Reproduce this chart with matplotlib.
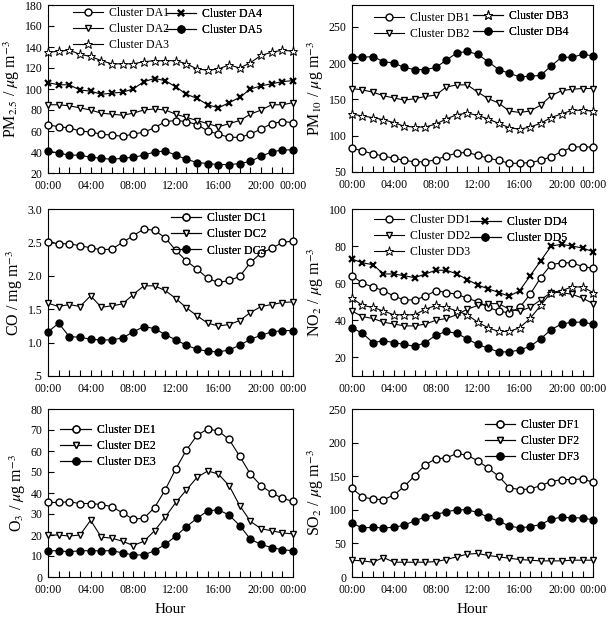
import numpy as np
import matplotlib
matplotlib.use('Agg')
import matplotlib.pyplot as plt
from matplotlib.ticker import MultipleLocator, FixedLocator

plt.rcParams['font.family'] = ['Liberation Serif', 'DejaVu Serif']
plt.rcParams['mathtext.fontset'] = 'stix'

hours = np.arange(24)
xticks = [0, 4, 8, 12, 16, 20, 23]
xlabels = ['00:00', '04:00', '08:00', '12:00', '16:00', '20:00', '00:00']

# PM2.5
da1 = [66, 64, 63, 60, 59, 57, 56, 55, 57, 59, 63, 69, 70, 69, 66, 60, 57, 54, 54, 57, 62, 67, 69, 68]
da2 = [85, 85, 84, 82, 80, 77, 76, 75, 77, 80, 81, 80, 76, 73, 70, 67, 64, 67, 70, 76, 80, 85, 85, 87]
da3 = [135, 136, 137, 133, 131, 127, 124, 124, 124, 126, 127, 127, 127, 124, 119, 118, 119, 123, 120, 125, 132, 135, 137, 136]
da4 = [106, 104, 104, 99, 98, 95, 96, 97, 100, 107, 110, 108, 102, 95, 91, 85, 82, 87, 92, 100, 103, 105, 107, 108]
da5 = [41, 39, 37, 37, 35, 34, 33, 34, 35, 37, 40, 41, 37, 33, 30, 29, 28, 28, 29, 31, 36, 40, 42, 42]

# PM10
db1 = [83, 79, 75, 72, 69, 66, 64, 64, 67, 72, 76, 77, 73, 69, 66, 62, 62, 63, 66, 71, 78, 84, 85, 84]
db2 = [165, 163, 160, 155, 152, 149, 151, 154, 156, 167, 170, 170, 160, 151, 145, 134, 132, 134, 142, 155, 162, 164, 165, 165]
db3 = [130, 127, 125, 122, 118, 113, 112, 112, 116, 123, 129, 131, 128, 123, 117, 111, 109, 112, 117, 125, 130, 135, 135, 134]
db4 = [209, 208, 209, 202, 200, 194, 191, 191, 194, 204, 214, 216, 212, 202, 191, 186, 181, 182, 183, 196, 208, 208, 212, 210]

# CO
dc1 = [2.50, 2.48, 2.48, 2.45, 2.42, 2.39, 2.40, 2.50, 2.60, 2.70, 2.68, 2.57, 2.38, 2.22, 2.10, 1.96, 1.90, 1.93, 1.99, 2.20, 2.34, 2.41, 2.50, 2.52]
dc2 = [1.59, 1.54, 1.57, 1.54, 1.70, 1.53, 1.55, 1.58, 1.72, 1.85, 1.85, 1.78, 1.66, 1.52, 1.40, 1.29, 1.25, 1.27, 1.33, 1.45, 1.54, 1.57, 1.60, 1.61]
dc3 = [1.16, 1.29, 1.09, 1.08, 1.05, 1.04, 1.04, 1.07, 1.16, 1.24, 1.21, 1.12, 1.04, 0.96, 0.90, 0.87, 0.86, 0.89, 0.96, 1.05, 1.11, 1.16, 1.18, 1.18]

# NO2
dd1 = [64, 60, 58, 56, 53, 51, 51, 53, 56, 55, 54, 52, 50, 47, 45, 44, 47, 54, 63, 70, 71, 71, 69, 68]
dd2 = [45, 42, 41, 39, 38, 37, 37, 38, 40, 41, 43, 46, 48, 49, 49, 46, 45, 47, 51, 55, 55, 54, 52, 49]
dd3 = [52, 48, 47, 45, 43, 43, 43, 46, 48, 47, 45, 43, 39, 36, 34, 34, 36, 41, 48, 55, 56, 58, 58, 55]
dd4 = [73, 71, 70, 65, 65, 64, 63, 65, 67, 67, 65, 62, 59, 57, 55, 53, 56, 64, 72, 80, 81, 80, 79, 77]
dd5 = [36, 33, 28, 29, 28, 27, 26, 28, 32, 34, 33, 30, 27, 25, 23, 23, 24, 26, 30, 35, 38, 39, 39, 38]

# O3
de1 = [35.5, 35.5, 35.8, 35, 35, 34.5, 33.5, 30.5, 27.5, 28, 33, 41.5, 51.5, 60.5, 67.5, 70.5, 69.5, 65.5, 57.5, 49, 43.5, 40, 37.5, 36]
de2 = [20, 20, 19.5, 20, 27, 19, 18.5, 17, 15, 17, 22, 28.5, 35.5, 41.5, 47.5, 50.5, 49, 43.5, 34, 26.5, 23, 22, 21, 20.5]
de3 = [12.5, 12.5, 12, 12.5, 12.5, 12.5, 12.5, 11.5, 10.5, 10.5, 12.5, 15.5, 19.5, 24, 28, 31.5, 32, 29.5, 24.5, 18, 15.5, 14, 13, 12.5]

# SO2
df1 = [132, 119, 116, 115, 122, 135, 151, 167, 176, 177, 184, 181, 173, 162, 150, 133, 130, 131, 136, 142, 145, 145, 146, 141]
df2 = [25, 24, 22, 29, 22, 22, 22, 22, 23, 26, 30, 34, 35, 32, 30, 28, 26, 25, 24, 24, 24, 25, 25, 25]
df3 = [80, 73, 74, 73, 74, 77, 84, 89, 93, 97, 100, 100, 96, 89, 83, 76, 73, 75, 78, 86, 89, 88, 88, 85]

styles = {
    'o': dict(marker='o', mfc='white', ms=5),
    'v': dict(marker='v', mfc='white', ms=5),
    '*': dict(marker='*', mfc='white', ms=6.5, mew=0.7),
    'x': dict(marker='x', mfc='black', ms=5, mew=1.6),
    'f': dict(marker='o', mfc='black', ms=5),
}

W, H = 609, 617
fig = plt.figure(figsize=(W / 100, H / 100), dpi=100)


def ax_at(l, t, r, b):
    return fig.add_axes([l / W, 1 - b / H, (r - l) / W, (b - t) / H])


def draw(ax, series, ylim, ymajor, ylabel, yticklabels=None):
    handles = []
    for y, st, lab in series:
        h, = ax.plot(hours, y, color='black', lw=0.8, mec='black',
                     clip_on=False, zorder=3, label=lab, **styles[st])
        handles.append(h)
    ax.set_xlim(0, 23)
    ax.set_ylim(*ylim)
    ax.xaxis.set_major_locator(FixedLocator(xticks))
    ax.set_xticklabels(xlabels)
    ax.xaxis.set_minor_locator(MultipleLocator(1))
    ax.yaxis.set_major_locator(FixedLocator(ymajor))
    if yticklabels is not None:
        ax.set_yticklabels(yticklabels)
    ax.tick_params(direction='in', labelsize=8.5, length=4, width=0.8)
    ax.tick_params(which='minor', direction='in', length=4, width=0.8)
    ax.tick_params(axis='x', which='both', top=False, pad=5)
    ax.tick_params(axis='y', which='both', right=False, pad=4)
    for s in ax.spines.values():
        s.set_linewidth(0.8)
    ax.set_ylabel(ylabel, fontsize=11.5, labelpad=2)
    return handles


def leg(ax, handles, x, y):
    lg = ax.legend(handles=handles, loc='upper left', bbox_to_anchor=(x, y),
                   frameon=False, fontsize=8.5, handlelength=2.6,
                   handletextpad=0.5, labelspacing=0.35, borderaxespad=0,
                   borderpad=0)
    ax.add_artist(lg)
    return lg


# panel A
ax = ax_at(48, 5, 293, 173)
hs = draw(ax, [(da1, 'o', 'Cluster DA1'), (da2, 'v', 'Cluster DA2'), (da3, '*', 'Cluster DA3'),
               (da4, 'x', 'Cluster DA4'), (da5, 'f', 'Cluster DA5')],
          (20, 180), np.arange(20, 181, 20), r'PM$_{2.5}$ / $\mu$g m$^{-3}$')
leg(ax, hs[:3], 0.10, 0.99)
leg(ax, hs[3:], 0.48, 0.98)

# panel B
ax = ax_at(352, 5, 593, 172)
hs = draw(ax, [(db1, 'o', 'Cluster DB1'), (db2, 'v', 'Cluster DB2'),
               (db3, '*', 'Cluster DB3'), (db4, 'f', 'Cluster DB4')],
          (50, 280), np.arange(50, 251, 50), r'PM$_{10}$ / $\mu$g m$^{-3}$')
leg(ax, hs[:2], 0.09, 0.96)
leg(ax, hs[2:], 0.50, 0.97)

# panel C
ax = ax_at(48, 209, 293, 376)
hs = draw(ax, [(dc1, 'o', 'Cluster DC1'), (dc2, 'v', 'Cluster DC2'), (dc3, 'f', 'Cluster DC3')],
          (0.5, 3.0), [0.5, 1.0, 1.5, 2.0, 2.5, 3.0], r'CO / mg m$^{-3}$',
          ['.5', '1.0', '1.5', '2.0', '2.5', '3.0'])
leg(ax, hs, 0.50, 0.98)

# panel D
ax = ax_at(352, 209, 593, 376)
hs = draw(ax, [(dd1, 'o', 'Cluster DD1'), (dd2, 'v', 'Cluster DD2'), (dd3, '*', 'Cluster DD3'),
               (dd4, 'x', 'Cluster DD4'), (dd5, 'f', 'Cluster DD5')],
          (10, 100), np.arange(20, 101, 20), r'NO$_{2}$ / $\mu$g m$^{-3}$')
leg(ax, hs[:3], 0.09, 0.97)
leg(ax, hs[3:], 0.49, 0.96)

# panel E
ax = ax_at(48, 409, 293, 577)
hs = draw(ax, [(de1, 'o', 'Cluster DE1'), (de2, 'v', 'Cluster DE2'), (de3, 'f', 'Cluster DE3')],
          (0, 80), np.arange(0, 81, 10), r'O$_{3}$ / $\mu$g m$^{-3}$')
leg(ax, hs, 0.05, 0.91)
ax.set_xlabel('Hour', fontsize=11, labelpad=5)

# panel F
ax = ax_at(352, 409, 593, 577)
hs = draw(ax, [(df1, 'o', 'Cluster DF1'), (df2, 'v', 'Cluster DF2'), (df3, 'f', 'Cluster DF3')],
          (0, 250), np.arange(0, 251, 50), r'SO$_{2}$ / $\mu$g m$^{-3}$')
leg(ax, hs, 0.55, 0.94)
ax.set_xlabel('Hour', fontsize=11, labelpad=5)

fig.savefig('out.png', dpi=100)
